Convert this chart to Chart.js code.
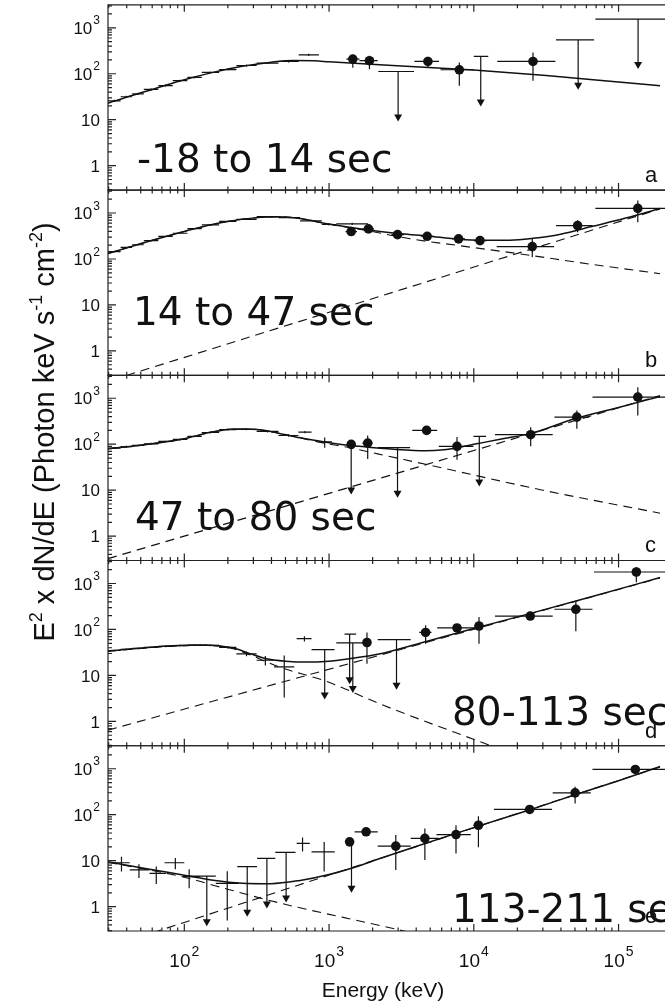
<!DOCTYPE html>
<html>
<head>
<meta charset="utf-8">
<title>Spectra by time interval</title>
<script src="https://cdn.jsdelivr.net/npm/chart.js@4.4.1/dist/chart.umd.min.js"></script>
<style>
  html, body { margin: 0; padding: 0; background: #fff; overflow: hidden; }
  #wrap { position: relative; width: 665px; height: 1008px; }
</style>
</head>
<body>
<div id="wrap"><canvas id="spectra" width="665" height="1008"></canvas></div>
<script>
// Panels, top to bottom
const panelIds = ['a', 'b', 'c', 'd', 'e'];
const panelTimes = ['-18 to 14 sec', '14 to 47 sec', '47 to 80 sec', '80-113 sec', '113-211 sec'];

// Axes (keV, keV^2 dN/dE)
const energyRange = [29.7, 194000];
const fluxRange = [0.295, 3162];
const energyTicks = [[100, '2'], [1000, '3'], [10000, '4'], [100000, '5']];
const fluxTicks = [[1, ''], [10, ''], [100, '2'], [1000, '3']];

// Rows: model / band / power law = [E, flux]
// lad = [E, flux, Elo, Ehi, dFlux]; flux points = [E, flux, Elo, Ehi, fluxLo, fluxHi]
// limits = [E, upper limit, Elo, Ehi]

// Panel a
const modelA = [[29.7, 22.9], [39.8, 30.9], [63.1, 47.9], [100, 74.1], [158, 107], [251, 145], [398, 178], [562, 195], [794, 191], [1000, 182], [3162, 148], [10000, 120], [31623, 91.2], [100000, 66.1], [194000, 55]];
const ladA = [[32.9, 25.7, 29.7, 36.3, 1.5], [39.8, 31.6, 36.3, 43.6, 1.8], [47.9, 36.3, 43.6, 52.5, 2], [58.9, 45.7, 52.5, 66.1, 2.5], [74.1, 55.0, 66.1, 83.2, 3], [93.3, 70.8, 83.2, 105, 3.5], [117, 83.2, 105, 132, 4], [151, 107, 132, 174, 5], [200, 123, 174, 229, 6], [269, 151, 229, 316, 7], [376, 170, 316, 447, 8], [525, 186, 447, 617, 10], [724, 257, 617, 851, 14]];
const fluxA = [[1459, 209, 1318, 1622, 135, 260], [1901, 192, 1622, 2168, 126, 245], [4819, 185, 3890, 5754, 138, 234], [7943, 122, 5888, 10000, 55, 176], [25645, 185, 14521, 36644, 70.5, 290]];
const limitA = [[3000, 112, 2188, 3864], [11169, 238, 10000, 12589], [52600, 548, 36983, 67764], [136458, 1550, 69183, 300000]];

// Panel b
const modelB = [[29.7, 132], [56.2, 240], [100, 398], [178, 617], [316, 794], [447, 832], [631, 759], [1000, 575], [1862, 427], [3162, 355], [4786, 316], [7943, 269], [11220, 257], [17783, 257], [25704, 282], [39811, 347], [66069, 513], [112202, 776], [194000, 1259]];
const bandB = [[29.7, 132], [56.2, 240], [100, 398], [178, 617], [316, 794], [447, 832], [631, 759], [1000, 570], [1862, 410], [3631, 275], [7943, 195], [20893, 129], [63096, 77.6], [194000, 47.9]];
const plawB = [[39.8, 0.292], [194000, 1230]];
const ladB = [[32.9, 145, 29.7, 36.3, 5], [39.8, 178, 36.3, 43.6, 6], [47.9, 204, 43.6, 52.5, 7], [58.9, 251, 52.5, 66.1, 8], [74.1, 309, 66.1, 83.2, 9], [93.3, 363, 83.2, 105, 10], [117, 457, 105, 132, 12], [151, 550, 132, 174, 14], [200, 661, 174, 229, 16], [269, 724, 229, 316, 18], [376, 832, 316, 447, 20], [531, 794, 447, 631, 22], [750, 676, 631, 891, 25], [1000, 562, 891, 1122, 30], [1445, 582, 1122, 1862, 35]];
const fluxB = [[1422, 395, 1300, 1560, 360, 435], [1871, 451, 1700, 2050, 410, 500], [2972, 339, 2700, 3300, 310, 370], [4764, 312, 4300, 5300, 285, 345], [7852, 274, 7100, 8700, 250, 300], [11040, 251, 10000, 12300, 215, 295], [25350, 186, 14390, 35890, 109, 274], [52120, 532, 36980, 66070, 380, 692], [135830, 1260, 69180, 300000, 631, 1862]];
const limitB = [];

// Panel c
const modelC = [[29.7, 79.4], [56.2, 100], [100, 132], [158, 186], [224, 214], [316, 209], [447, 174], [631, 138], [933, 112], [1413, 93.3], [2138, 83.2], [3162, 75.9], [4266, 72.4], [5623, 74.1], [7586, 83.2], [10471, 102], [15849, 132], [24547, 170], [50119, 363], [100000, 631], [194000, 1096]];
const bandC = [[29.7, 79.4], [56.2, 100], [100, 132], [158, 186], [224, 214], [316, 209], [447, 174], [631, 138], [933, 105], [1413, 83.2], [2168, 61.7], [5012, 34.7], [29992, 10.0], [194000, 3.16]];
const plawC = [[29.7, 0.324], [194000, 1148]];
const ladC = [[32.9, 82.4, 29.7, 36.3, 4], [39.8, 88.3, 36.3, 43.6, 4], [47.9, 94.4, 43.6, 52.5, 4], [58.9, 102, 52.5, 66.1, 5], [74.1, 115, 66.1, 83.2, 5], [93.3, 127, 83.2, 105, 6], [117, 148, 105, 132, 7], [151, 180, 132, 174, 8], [200, 207, 174, 229, 9], [269, 211, 229, 316, 10], [376, 191, 316, 447, 10], [525, 155, 447, 614, 10], [681, 183, 614, 757, 10], [933, 112, 832, 1047, 28]];
const fluxC = [[1422, 99, 1380, 1465, 99, 99], [1849, 106, 1700, 2000, 48, 155], [4721, 200, 3758, 5585, 185, 215], [7656, 90, 5728, 9954, 46, 143], [24717, 161, 14000, 35080, 90, 235], [51523, 388, 36060, 62660, 217, 543], [135831, 1057, 66070, 300000, 424, 1738]];
const limitC = [[1422, 99, 1380, 1465], [2972, 84, 2168, 3631], [10914, 148, 9954, 12160]];

// Panel d
const modelD = [[29.7, 33.9], [56.2, 40.7], [100, 45.2], [141, 46.2], [214, 39.8], [282, 30.2], [363, 23.4], [501, 20.4], [708, 19.5], [933, 20.0], [1413, 23.4], [2168, 28.8], [4764, 55.6], [10000, 105], [24322, 221], [63096, 501], [194000, 1349]];
const bandD = [[29.7, 33.3], [56.2, 40.0], [100, 44.3], [141, 45.0], [214, 38.5], [282, 28.2], [447, 15.5], [1000, 7.08], [2168, 2.51], [13614, 0.282]];
const plawD = [[29.7, 0.646], [194000, 1318]];
const ladD = [[32.9, 34.9, 29.7, 36.3, 1.5], [39.8, 36.9, 36.3, 43.6, 1.5], [47.9, 38.9, 43.6, 52.5, 1.5], [58.9, 41.0, 52.5, 66.1, 1.5], [74.1, 42.9, 66.1, 83.2, 2], [93.3, 44.7, 83.2, 105, 2], [117, 45.7, 105, 132, 2], [151, 45.1, 132, 174, 2], [200, 40.7, 174, 229, 2.5], [269, 29.5, 229, 316, 3.5], [363, 21.4, 316, 417, 5], [490, 15.3, 417, 575, 12], [676, 63, 597, 757, 8]];
const fluxD = [[1828, 52, 1700, 1950, 18, 86], [4645, 86, 4200, 5100, 49, 123], [7656, 108, 5585, 10490, 95, 125], [10864, 119, 10100, 11800, 49, 187], [24547, 196, 14000, 35080, 175, 220], [50700, 275, 36060, 66070, 91, 396], [132740, 1780, 67610, 300000, 1070, 2290]];
const limitD = [[933, 36.6, 757, 1091], [1387, 79, 1279, 1538], [1459, 51, 1122, 1754], [2924, 60, 2168, 3664]];

// Panel e
const modelE = [[29.7, 9.44], [56.2, 6.61], [100, 4.84], [158, 3.76], [251, 3.24], [398, 3.16], [631, 3.72], [1000, 5.01], [1585, 7.59], [2168, 10.7], [3981, 20.4], [10471, 55.0], [25119, 132], [50699, 275], [100000, 550], [194000, 1122]];
const bandE = [[29.7, 9.23], [100, 4.37], [165, 2.82], [471, 1.17], [2168, 0.398], [3981, 0.257]];
const plawE = [[60.3, 0.27], [194000, 1096]];
const ladE = [[36.8, 9.0, 29.7, 42, 3.2], [48.6, 6.3, 42, 57.5, 2.1], [64.0, 5.3, 57.5, 75, 2.2], [86.7, 9.0, 73, 100, 2.5], [108, 4.5, 97, 127, 2], [198, 3.2, 165, 238, 2.7], [656, 23.8, 597, 736, 8], [925, 15.6, 757, 1094, 9.8]];
const fluxE = [[1387, 25.7, 1340, 1440, 25.7, 25.7], [1803, 42.5, 1500, 2168, 36, 50], [2891, 20.7, 2168, 3664, 6.25, 36], [4592, 30.5, 3664, 5728, 10.3, 50], [7534, 37, 5520, 9530, 14.4, 59], [10765, 59, 9900, 11700, 19.5, 93], [24322, 130, 13770, 34750, 115, 147], [50119, 299, 35080, 64270, 176, 405], [130620, 966, 66070, 300000, 850, 1100]];
const limitE = [[143, 4.6, 104, 165], [272, 7.4, 232, 318], [372, 11.2, 318, 425], [505, 15.1, 425, 587], [1429, 24.5, 1380, 1480]];

const panels = [
    { model: modelA, band: null, plaw: null, lad: ladA, flux: fluxA, limits: limitA },
    { model: modelB, band: bandB, plaw: plawB, lad: ladB, flux: fluxB, limits: limitB },
    { model: modelC, band: bandC, plaw: plawC, lad: ladC, flux: fluxC, limits: limitC },
    { model: modelD, band: bandD, plaw: plawD, lad: ladD, flux: fluxD, limits: limitD },
    { model: modelE, band: bandE, plaw: plawE, lad: ladE, flux: fluxE, limits: limitE }
];

// Text placement (px)
const timeSpots = [[137, 172], [133, 325], [135, 530], [452, 725], [452, 922]];

const INK = '#111';
const fontSans = '"Liberation Sans", Arial, Helvetica, sans-serif';
const fontBig = '"DejaVu Sans", sans-serif';

function pts(rows) { return rows.map(r => ({ x: r[0], y: r[1] })); }
function crossPts(rows) { return rows.map(r => ({ x: r[0], y: r[1], xl: r[2], xh: r[3], yl: r[1] - r[4], yh: r[1] + r[4] })); }
function circlePts(rows) { return rows.map(r => ({ x: r[0], y: r[1], xl: r[2], xh: r[3], yl: r[4], yh: r[5] })); }
function limitPts(rows) { return rows.map(r => ({ x: r[0], y: r[1], xl: r[2], xh: r[3] })); }

// Datasets
const datasets = [];
panels.forEach((p, i) => {
    const axis = 'y' + panelIds[i];
    datasets.push({ kind: 'flux', yAxisID: axis, data: circlePts(p.flux), pointRadius: 4.8, pointBackgroundColor: INK, pointBorderColor: INK, pointBorderWidth: 0 });
    datasets.push({ kind: 'lad', yAxisID: axis, data: crossPts(p.lad), pointRadius: 0 });
    datasets.push({ kind: 'limit', yAxisID: axis, data: limitPts(p.limits), pointRadius: 0 });
    datasets.push({ yAxisID: axis, data: pts(p.model), showLine: true, borderColor: INK, borderWidth: 1.5, pointRadius: 0, cubicInterpolationMode: 'monotone' });
    if (p.band) {
        datasets.push({ yAxisID: axis, data: pts(p.band), showLine: true, borderColor: INK, borderWidth: 1.1, borderDash: [9, 6], pointRadius: 0, cubicInterpolationMode: 'monotone' });
    }
    if (p.plaw) {
        datasets.push({ yAxisID: axis, data: pts(p.plaw), showLine: true, borderColor: INK, borderWidth: 1.1, borderDash: [9, 6], pointRadius: 0 });
    }
});

// Scales: one shared energy axis, five stacked flux axes
const hidden = { ticks: { display: false }, grid: { display: false, drawTicks: false }, border: { display: false } };
const scales = {
    x: Object.assign({ type: 'logarithmic', position: 'bottom', min: energyRange[0], max: energyRange[1], afterFit: s => { s.height = 0; } }, hidden)
};
panelIds.forEach((id, i) => {
    scales['y' + id] = Object.assign({
        type: 'logarithmic', position: 'left', stack: 'panels', stackWeight: 1, weight: panelIds.length - i,
        min: fluxRange[0], max: fluxRange[1], afterFit: s => { s.width = 0; }
    }, hidden);
});

// Error bars and upper limits
const errorBars = {
    id: 'errorBars',
    beforeDatasetsDraw(chart) {
        const ctx = chart.ctx;
        const xs = chart.scales.x;
        chart.data.datasets.forEach(ds => {
            if (!ds.kind) return;
            const ys = chart.scales[ds.yAxisID];
            ctx.save();
            ctx.beginPath();
            ctx.rect(xs.left, ys.top, xs.right - xs.left + 10, ys.bottom - ys.top);
            ctx.clip();
            ctx.strokeStyle = INK;
            ctx.fillStyle = INK;
            ctx.lineWidth = 1.2;
            ds.data.forEach(p => {
                const px = xs.getPixelForValue(p.x);
                const py = ys.getPixelForValue(p.y);
                ctx.beginPath();
                ctx.moveTo(xs.getPixelForValue(p.xl), py);
                ctx.lineTo(xs.getPixelForValue(p.xh), py);
                if (ds.kind === 'limit') {
                    ctx.moveTo(px, py);
                    ctx.lineTo(px, py + 45);
                    ctx.stroke();
                    ctx.beginPath();
                    ctx.moveTo(px - 4, py + 43);
                    ctx.lineTo(px + 4, py + 43);
                    ctx.lineTo(px, py + 50);
                    ctx.closePath();
                    ctx.fill();
                } else {
                    ctx.moveTo(px, ys.getPixelForValue(p.yl));
                    ctx.lineTo(px, ys.getPixelForValue(p.yh));
                    ctx.stroke();
                }
            });
            ctx.restore();
        });
    }
};

// Base-10 label with superscript
function powerLabel(ctx, value, exp, x, midY, align, size, supSize) {
    const base = value === 1 ? '1' : '10';
    ctx.font = size + 'px ' + fontSans;
    const wBase = ctx.measureText(base).width;
    ctx.font = supSize + 'px ' + fontSans;
    const wExp = exp ? ctx.measureText(exp).width + 1 : 0;
    const total = wBase + wExp;
    let left = x;
    if (align === 'right') left = x - total;
    if (align === 'center') left = x - total / 2;
    ctx.textAlign = 'left';
    ctx.textBaseline = 'alphabetic';
    ctx.font = size + 'px ' + fontSans;
    ctx.fillText(base, left, midY + size * 0.36);
    if (exp) {
        ctx.font = supSize + 'px ' + fontSans;
        ctx.fillText(exp, left + wBase + 1, midY - size * 0.2);
    }
}

// Text with superscript runs, centred on x
function richText(ctx, parts, x, y, size) {
    const sup = Math.round(size * 0.62);
    let total = 0;
    parts.forEach(([t, s]) => {
        ctx.font = (s ? sup : size) + 'px ' + fontSans;
        total += ctx.measureText(t).width;
    });
    let cx = x - total / 2;
    ctx.textAlign = 'left';
    ctx.textBaseline = 'alphabetic';
    parts.forEach(([t, s]) => {
        ctx.font = (s ? sup : size) + 'px ' + fontSans;
        ctx.fillText(t, cx, s ? y - size * 0.42 : y);
        cx += ctx.measureText(t).width;
    });
}

// Frames, inward ticks and all labels
const frame = {
    id: 'frame',
    afterDraw(chart) {
        const ctx = chart.ctx;
        const xs = chart.scales.x;
        ctx.save();
        ctx.strokeStyle = '#222';
        ctx.fillStyle = INK;
        ctx.lineWidth = 1.2;
        panelIds.forEach((id, i) => {
            const ys = chart.scales['y' + id];
            ctx.beginPath();
            ctx.moveTo(xs.right + 5, ys.top);
            ctx.lineTo(xs.left, ys.top);
            ctx.lineTo(xs.left, ys.bottom);
            ctx.lineTo(xs.right + 5, ys.bottom);
            ctx.stroke();

            // energy ticks on top and bottom edge
            ctx.beginPath();
            for (let d = 1; d <= 5; d++) {
                for (let m = 1; m <= 9; m++) {
                    const v = m * Math.pow(10, d);
                    if (v < energyRange[0] || v > energyRange[1]) continue;
                    const px = xs.getPixelForValue(v);
                    const len = m === 1 ? 7 : 3.5;
                    ctx.moveTo(px, ys.top); ctx.lineTo(px, ys.top + len);
                    ctx.moveTo(px, ys.bottom); ctx.lineTo(px, ys.bottom - len);
                }
            }
            // flux ticks on left edge
            for (let k = -1; k <= 3; k++) {
                for (let m = 1; m <= 9; m++) {
                    const v = m * Math.pow(10, k);
                    if (v < fluxRange[0] || v > fluxRange[1]) continue;
                    const py = ys.getPixelForValue(v);
                    ctx.moveTo(xs.left, py); ctx.lineTo(xs.left + (m === 1 ? 8 : 4), py);
                }
            }
            ctx.stroke();

            fluxTicks.forEach(([v, exp]) => {
                powerLabel(ctx, v, exp, 100, ys.getPixelForValue(v), 'right', 17, 12);
            });

            // time interval and panel letter
            ctx.font = '39px ' + fontBig;
            ctx.textAlign = 'left';
            ctx.textBaseline = 'alphabetic';
            ctx.fillText(panelTimes[i], timeSpots[i][0], timeSpots[i][1]);
            ctx.font = '22px ' + fontSans;
            ctx.fillText(id, 645, ys.top + 177);
        });

        energyTicks.forEach(([v, exp]) => {
            powerLabel(ctx, v, exp, xs.getPixelForValue(v), 960, 'center', 19, 14);
        });
        ctx.font = '21px ' + fontSans;
        ctx.textAlign = 'center';
        ctx.fillText('Energy (keV)', 383, 997);

        ctx.translate(54, 432);
        ctx.rotate(-Math.PI / 2);
        richText(ctx, [['E', false], ['2', true], [' x dN/dE (Photon keV s', false], ['-1', true], [' cm', false], ['-2', true], [')', false]], 0, 0, 29);
        ctx.restore();
    }
};

new Chart(document.getElementById('spectra'), {
    type: 'scatter',
    data: { datasets: datasets },
    options: {
        responsive: false,
        animation: false,
        devicePixelRatio: 1,
        events: [],
        layout: { padding: { left: 108, right: 0, top: 4, bottom: 77 } },
        scales: scales,
        plugins: { legend: { display: false }, tooltip: { enabled: false } }
    },
    plugins: [errorBars, frame]
});
</script>
</body>
</html>
